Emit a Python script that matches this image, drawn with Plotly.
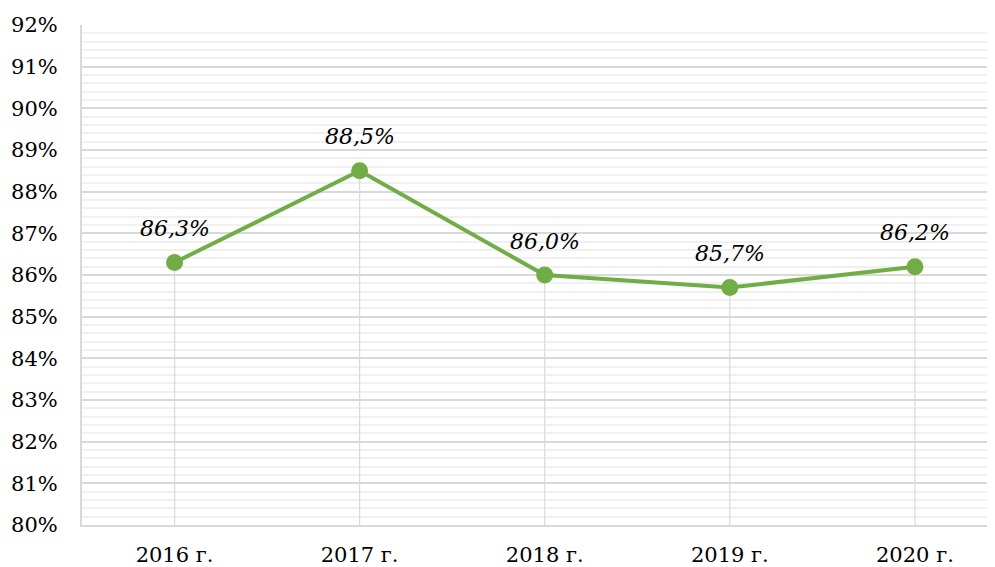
import plotly.graph_objects as go

years = ["2016 г.", "2017 г.", "2018 г.", "2019 г.", "2020 г."]
shares = [86.3, 88.5, 86.0, 85.7, 86.2]
y_base = 80

GREEN = "#70AD47"
FONT = "DejaVu Serif"

fig = go.Figure()

# drop lines from each point down to the axis
fig.add_trace(
    go.Scatter(
        x=list(range(len(years))),
        y=shares,
        mode="markers",
        marker=dict(size=1, color="rgba(0,0,0,0)"),
        error_y=dict(
            type="data",
            symmetric=False,
            array=[0] * len(shares),
            arrayminus=[v - y_base for v in shares],
            color="#D9D9D9",
            thickness=1.2,
            width=0,
        ),
        hoverinfo="skip",
        showlegend=False,
    )
)

fig.add_trace(
    go.Scatter(
        x=list(range(len(years))),
        y=shares,
        mode="lines+markers",
        line=dict(color=GREEN, width=4),
        marker=dict(color=GREEN, size=17),
        showlegend=False,
    )
)

for i, v in enumerate(shares):
    fig.add_annotation(
        x=i,
        y=v,
        text=f"{v:.1f}%".replace(".", ","),
        showarrow=False,
        yshift=34,
        font=dict(family=FONT, size=22, color="#000000", style="italic"),
    )

# page body adds 8px offset, so margins are shifted accordingly
fig.update_layout(
    width=995,
    height=567,
    margin=dict(l=74, r=0, t=17, b=50),
    paper_bgcolor="white",
    plot_bgcolor="white",
    font=dict(family=FONT, size=21, color="#000000"),
)

fig.update_xaxes(
    range=[-0.5, 4.476],
    tickmode="array",
    tickvals=list(range(len(years))),
    ticktext=years,
    showgrid=False,
    showline=True,
    linecolor="#D9D9D9",
    linewidth=2,
    ticks="",
    ticklabelstandoff=10,
    zeroline=False,
    automargin=False,
)

fig.update_yaxes(
    range=[80, 92],
    dtick=1,
    ticksuffix="%",
    showgrid=True,
    gridcolor="#D9D9D9",
    gridwidth=2,
    minor=dict(dtick=0.2, showgrid=True, gridcolor="#F0F0F0", gridwidth=2),
    showline=True,
    linecolor="#D9D9D9",
    linewidth=2,
    ticks="",
    ticklabelstandoff=18,
    zeroline=False,
    automargin=False,
)

fig.write_html("out.html")
